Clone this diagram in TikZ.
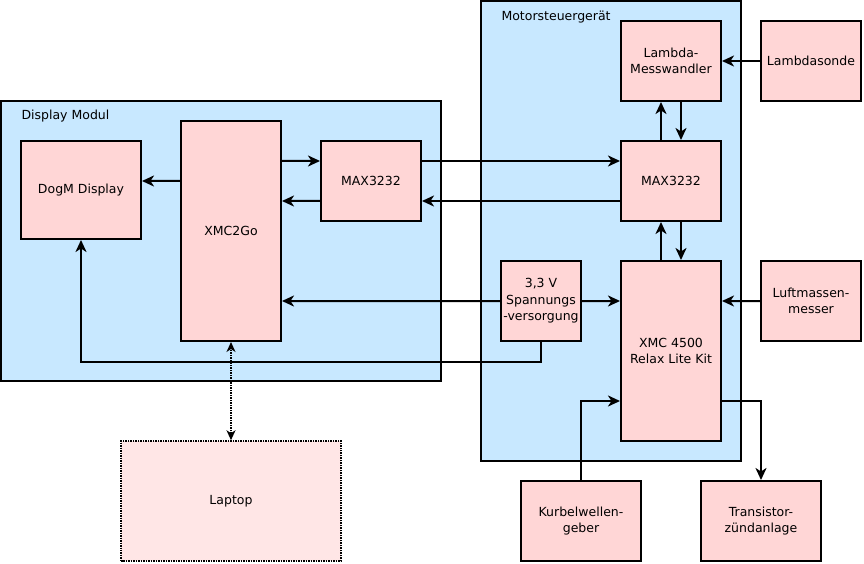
\documentclass[tikz,border=0pt]{standalone}
\usepackage{fontspec}
\setmainfont{DejaVu Sans}
\usepackage{tikz}
\usetikzlibrary{arrows.meta}

\definecolor{boxpink}{HTML}{FFD6D6}
\definecolor{lightpink}{HTML}{FFE6E6}
\definecolor{groupblue}{HTML}{C8E8FF}

\begin{document}
\begin{tikzpicture}[
    x=1bp,y=-1bp,
    font=\fontsize{12.5bp}{16.5bp}\selectfont,
    group/.style={draw,black,fill=groupblue,line width=2bp,inner sep=0pt},
    block/.style={draw,black,fill=boxpink,line width=2bp,align=center,inner sep=0pt},
    arr/.style={line width=2bp,-{Stealth[length=12bp,width=11bp,inset=3.5bp]}},
    link/.style={line width=1.5bp,densely dotted,{Stealth[length=10bp,width=9bp,inset=3bp]}-{Stealth[length=10bp,width=9bp,inset=3bp]}}
    ]
    \useasboundingbox (0,0) rectangle (864,564);
    % groups
    \node[group,minimum width=260bp,minimum height=460bp] (motor) at (611,231) {};
    \node[anchor=west] (motorlabel) at (498,17) {Motorsteuergerät};
    \node[group,minimum width=440bp,minimum height=280bp] (display) at (221,241) {};
    \node[anchor=west] (displaylabel) at (18,116) {Display Modul};
    % blocks
    \node[block,minimum width=100bp,minimum height=80bp] (lambda) at (671,61) {Lambda-\\Messwandler};
    \node[block,minimum width=100bp,minimum height=80bp] (sonde) at (811,61) {Lambdasonde};
    \node[block,minimum width=100bp,minimum height=80bp] (maxr) at (671,181) {MAX3232};
    \node[block,minimum width=100bp,minimum height=180bp] (xmc45) at (671,351) {XMC 4500\\Relax Lite Kit};
    \node[block,minimum width=80bp,minimum height=80bp] (vers) at (541,301) {3,3 V\\Spannungs\\-versorgung};
    \node[block,minimum width=100bp,minimum height=80bp] (luft) at (811,301) {Luftmassen-\\messer};
    \node[block,minimum width=120bp,minimum height=80bp] (kurbel) at (581,521) {Kurbelwellen-\\geber};
    \node[block,minimum width=120bp,minimum height=80bp] (trans) at (761,521) {Transistor-\\zündanlage};
    \node[block,minimum width=120bp,minimum height=98bp] (dogm) at (81,190) {DogM Display};
    \node[block,minimum width=100bp,minimum height=220bp] (xmc2go) at (231,231) {XMC2Go};
    \node[block,minimum width=100bp,minimum height=80bp] (maxl) at (371,181) {MAX3232};
    \node[block,fill=lightpink,line width=1.5bp,densely dotted,minimum width=220bp,minimum height=120bp] (laptop) at (231,501) {Laptop};
    % connections
    \draw[arr] ([yshift=50bp]xmc2go.west) -- ([yshift=9bp]dogm.east);
    \draw[arr] ([yshift=70bp]xmc2go.east) -- ([yshift=20bp]maxl.west);
    \draw[arr] ([yshift=-20bp]maxl.west) -- ([yshift=30bp]xmc2go.east);
    \draw[arr] ([yshift=20bp]maxl.east) -- ([yshift=20bp]maxr.west);
    \draw[arr] ([yshift=-20bp]maxr.west) -- ([yshift=-20bp]maxl.east);
    \draw[arr] ([xshift=10bp]lambda.south) -- ([xshift=10bp]maxr.north);
    \draw[arr] ([xshift=-10bp]maxr.north) -- ([xshift=-10bp]lambda.south);
    \draw[arr] (sonde.west) -- (lambda.east);
    \draw[arr] ([xshift=10bp]maxr.south) -- ([xshift=10bp]xmc45.north);
    \draw[arr] ([xshift=-10bp]xmc45.north) -- ([xshift=-10bp]maxr.south);
    \draw[arr] (vers.west) -- ([yshift=-70bp]xmc2go.east);
    \draw[arr] (vers.east) -- ([yshift=50bp]xmc45.west);
    \draw[arr] (vers.south) -- ++(0,20) -| (dogm.south);
    \draw[arr] (luft.west) -- ([yshift=50bp]xmc45.east);
    \draw[arr] (kurbel.north) |- ([yshift=-50bp]xmc45.west);
    \draw[arr] ([yshift=-50bp]xmc45.east) -| (trans.north);
    \draw[link] (laptop.north) -- (xmc2go.south);
\end{tikzpicture}
\end{document}
